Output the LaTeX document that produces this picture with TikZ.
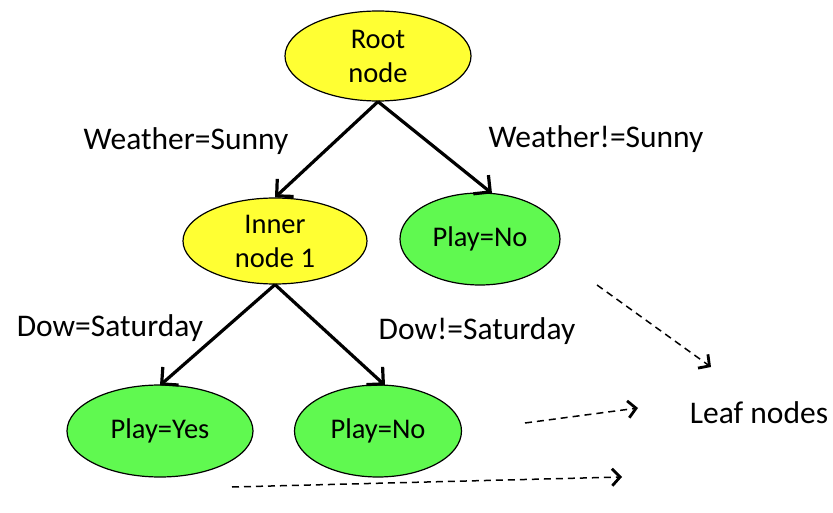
\documentclass[tikz,border=0pt]{standalone}
\usepackage{fontspec}
\setmainfont{Carlito}
\usepackage{tikz}
\usetikzlibrary{arrows.meta,shapes,positioning,calc}
\usepackage{xcolor}
\definecolor{dtyellow}{RGB}{255,255,51}
\definecolor{dtgreen}{RGB}{96,249,80}
\tikzstyle{arrow} = [line width=3.2pt,-{Straight Barb[length=12pt,width=24pt,line width=3.2pt]}]
\tikzstyle{dasharrow} = [line width=1.5pt,dash pattern=on 7pt off 5pt,-{Straight Barb[length=8pt,width=17pt,line width=2.8pt]}]
\tikzstyle{inner} = [ellipse, draw=black, line width=1.2pt, fill=dtyellow, inner sep=0pt, align=center, font=\fontsize{28.5}{34}\selectfont]
\tikzstyle{leaf} = [ellipse, draw=black, line width=1.2pt, fill=dtgreen, inner sep=0pt, align=center, font=\fontsize{28.5}{34}\selectfont]
\tikzstyle{lbl} = [font=\fontsize{31.5}{36}\selectfont]

\begin{document}
\begin{tikzpicture}[x=1pt, y=-1pt]
    \useasboundingbox (0,0) rectangle (833,513);

    % Nodes
    \node[inner, minimum width=186pt, minimum height=90pt] (root) at (378, 56) {Root\\node};
    \node[inner, minimum width=184pt, minimum height=86pt] (inner1) at (275, 241) {Inner\\node 1};
    \node[leaf, minimum width=160pt, minimum height=92pt] (playno1) at (480, 239) {Play=No};
    \node[leaf, minimum width=186pt, minimum height=92pt] (playyes) at (160, 431) {Play=Yes};
    \node[leaf, minimum width=167pt, minimum height=92pt] (playno2) at (378, 431) {Play=No};

    % Edges
    \draw[arrow] (root.south) -- (inner1.north);
    \draw[arrow] (root.south) -- ([xshift=12pt, yshift=-1pt]playno1.north);
    \draw[arrow] (inner1.south) -- ([yshift=-1pt]playyes.north);
    \draw[arrow] (inner1.south) -- ([xshift=7pt, yshift=-1pt]playno2.north);

    % Edge labels
    \node[lbl] (lsunny) at (186, 141) {Weather=Sunny};
    \node[lbl] (lnotsunny) at (596, 139) {Weather!=Sunny};
    \node[lbl] (lsat) at (110, 328) {Dow=Saturday};
    \node[lbl] (lnotsat) at (477, 331) {Dow!=Saturday};

    % Leaf nodes note
    \node[lbl] (leafnote) at (759, 413) {Leaf nodes};
    \coordinate (d1s) at (597, 285);
    \coordinate (d1e) at (711, 367);
    \coordinate (d2s) at (525, 423);
    \coordinate (d2e) at (638, 408);
    \coordinate (d3s) at (232, 487);
    \coordinate (d3e) at (622, 477);
    \draw[dasharrow] (d1s) -- (d1e);
    \draw[dasharrow] (d2s) -- (d2e);
    \draw[dasharrow] (d3s) -- (d3e);
\end{tikzpicture}
\end{document}
